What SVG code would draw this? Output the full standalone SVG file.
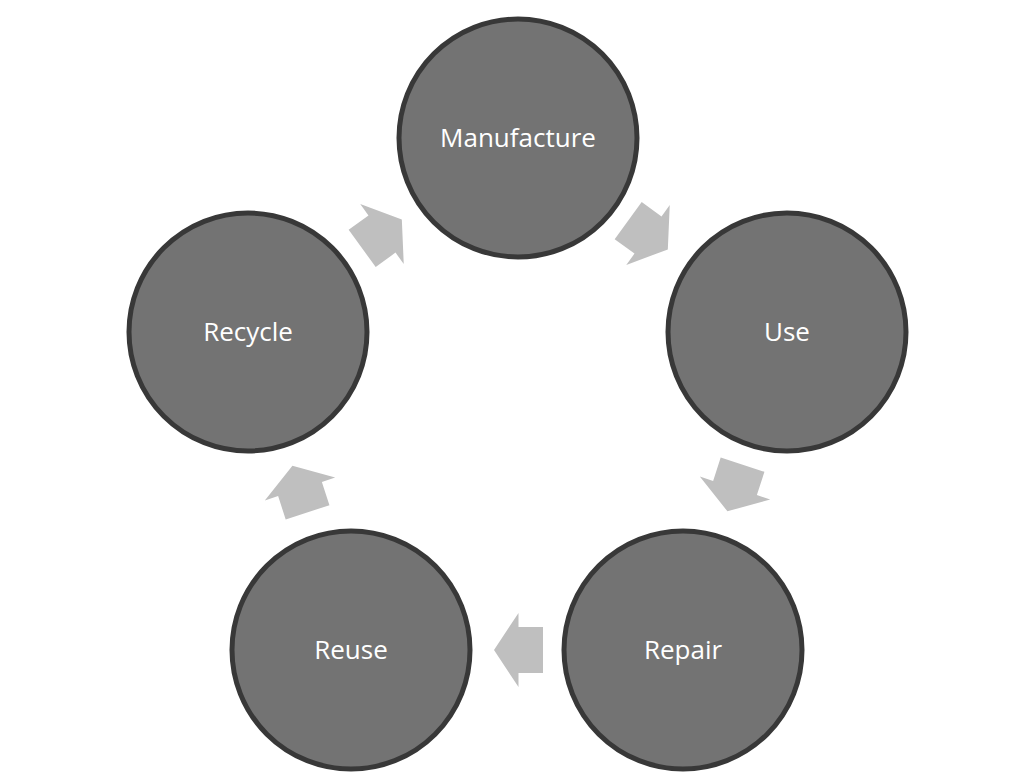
<svg xmlns="http://www.w3.org/2000/svg" width="1032" height="784" viewBox="0 0 1032 784">
<style>
.node circle{fill:#737373;stroke:#383838;stroke-width:5}
.node text{fill:#ffffff;font-family:"Open Sans","Liberation Sans",sans-serif;font-size:26px;text-anchor:middle;dominant-baseline:central}
.arr{fill:#bfbfbf}
</style>
<defs>
<polygon id="blk" points="-24.5,-23 0,-23 0,-37 24.5,0 0,37 0,23 -24.5,23"/>
</defs>
<rect width="1032" height="784" fill="#ffffff"/>
<g id="connectors">
<use href="#blk" class="arr" transform="translate(648,235) rotate(36)"/>
<use href="#blk" class="arr" transform="translate(735,488) rotate(108)"/>
<use href="#blk" class="arr" transform="translate(518.5,650) rotate(180)"/>
<use href="#blk" class="arr" transform="translate(300,489) rotate(252)"/>
<use href="#blk" class="arr" transform="translate(382,234) rotate(324)"/>
</g>
<g id="manufacture" class="node"><circle cx="518" cy="138" r="119"/><text x="518" y="137">Manufacture</text></g>
<g id="use" class="node"><circle cx="787" cy="332" r="119"/><text x="787" y="331">Use</text></g>
<g id="repair" class="node"><circle cx="683" cy="650" r="119"/><text x="683" y="649">Repair</text></g>
<g id="reuse" class="node"><circle cx="351" cy="650" r="119"/><text x="351" y="649">Reuse</text></g>
<g id="recycle" class="node"><circle cx="248" cy="332" r="119"/><text x="248" y="331">Recycle</text></g>
</svg>
